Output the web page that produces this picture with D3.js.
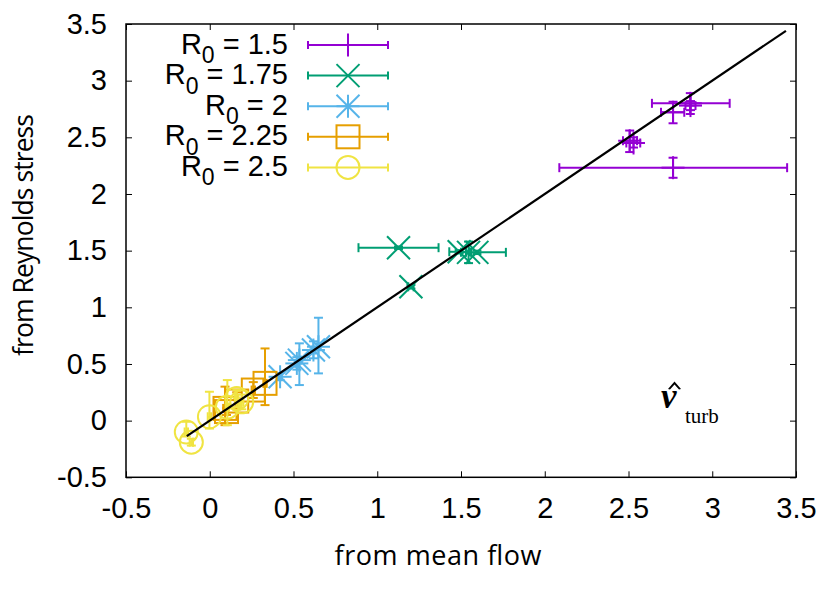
<!DOCTYPE html>
<html><head><meta charset="utf-8">
<script src="https://cdn.jsdelivr.net/npm/d3@7"></script>
<style>
body{margin:0;background:#fff;}
svg{display:block;}
</style></head>
<body>
<svg id="chart" width="831" height="590"></svg>
<script>
// ---- data: each row = [x, y, xlow, xhigh, ylow, yhigh]
const xTicks = [-0.5, 0, 0.5, 1, 1.5, 2, 2.5, 3, 3.5];
const yTicks = [-0.5, 0, 0.5, 1, 1.5, 2, 2.5, 3, 3.5];
const xTickLabels = ["-0.5","0","0.5","1","1.5","2","2.5","3","3.5"];
const yTickLabels = ["-0.5","0","0.5","1","1.5","2","2.5","3","3.5"];
const seriesNames = ["1.5","1.75","2","2.25","2.5"];
const r150 = [
  [2.507, 2.47, 2.467, 2.551, 2.37, 2.56],
  [2.53, 2.45, 2.487, 2.570, 2.41, 2.50],
  [2.766, 2.721, 2.694, 2.833, 2.624, 2.814],
  [2.869, 2.80, 2.640, 3.104, 2.706, 2.89],
  [2.87, 2.78, 2.84, 2.90, 2.74, 2.82],
  [2.766, 2.232, 2.087, 3.447, 2.143, 2.32]
];
const r175 = [
  [1.127, 1.526, 0.888, 1.366, 1.515, 1.537],
  [1.489, 1.49, 1.43, 1.55, 1.475, 1.505],
  [1.545, 1.485, 1.53, 1.56, 1.39, 1.58],
  [1.595, 1.485, 1.50, 1.768, 1.47, 1.50],
  [1.201, 1.181, 1.185, 1.217, 1.165, 1.197]
];
const r200 = [
  [0.649, 0.652, 0.64, 0.66, 0.417, 0.908],
  [0.619, 0.623, 0.61, 0.63, 0.55, 0.70],
  [0.535, 0.534, 0.525, 0.545, 0.314, 0.682],
  [0.520, 0.505, 0.51, 0.53, 0.45, 0.56],
  [0.420, 0.387, 0.41, 0.43, 0.36, 0.42]
];
const r225 = [
  [0.330, 0.329, 0.32, 0.34, 0.137, 0.637],
  [0.260, 0.270, 0.25, 0.27, 0.20, 0.34],
  [0.161, 0.173, 0.15, 0.17, 0.10, 0.25],
  [0.091, 0.108, 0.08, 0.10, -0.04, 0.30],
  [0.10, 0.08, 0.09, 0.11, 0.05, 0.11]
];
const r250 = [
  [-0.14, -0.10, -0.15, -0.13, -0.14, -0.01],
  [-0.11, -0.19, -0.12, -0.10, -0.22, -0.16],
  [-0.002, 0.034, -0.012, 0.008, -0.07, 0.255],
  [0.105, 0.119, 0.095, 0.115, -0.04, 0.358],
  [0.161, 0.196, 0.151, 0.171, 0.12, 0.27],
  [0.191, 0.166, 0.181, 0.201, 0.10, 0.23]
];
const fitLine = [[-0.137, -0.137], [3.44, 3.44]];

const colors = ["#9400d3", "#009e73", "#56b4e9", "#e69f00", "#f0e442"];
const shapes = ["plus", "cross", "star", "square", "circle"];
const allSeries = [r150, r175, r200, r225, r250];

// ---- layout
const svg = d3.select("#chart");
const pL = 126, pR = 796, pT = 24, pB = 477.3;
const x = d3.scaleLinear().domain([-0.5, 3.5]).range([pL, pR]);
const y = d3.scaleLinear().domain([-0.5, 3.5]).range([pB, pT]);
const tickFont = "'Liberation Sans', Arial, Helvetica, sans-serif";

// axes
const gx = svg.append("g").attr("transform", `translate(0,${pB})`)
  .call(d3.axisBottom(x).tickValues(xTicks).tickSize(-6).tickPadding(20)
    .tickFormat((d, i) => xTickLabels[i]));
const gxt = svg.append("g").attr("transform", `translate(0,${pT})`)
  .call(d3.axisTop(x).tickValues(xTicks).tickSize(-6).tickFormat(""));
const gy = svg.append("g").attr("transform", `translate(${pL},0)`)
  .call(d3.axisLeft(y).tickValues(yTicks).tickSize(-6).tickPadding(19)
    .tickFormat((d, i) => yTickLabels[i]));
const gyr = svg.append("g").attr("transform", `translate(${pR},0)`)
  .call(d3.axisRight(y).tickValues(yTicks).tickSize(-6).tickFormat(""));
[gx, gxt, gy, gyr].forEach(g => {
  g.select(".domain").remove();
  g.selectAll(".tick line").attr("stroke", "#000").attr("stroke-width", 1);
  g.selectAll(".tick text").attr("font-family", tickFont).attr("font-size", 29).attr("fill", "#000");
});
svg.append("rect").attr("x", pL).attr("y", pT).attr("width", pR - pL).attr("height", pB - pT)
  .attr("fill", "none").attr("stroke", "#000").attr("stroke-width", 1.5);

// axis labels
const labFont = "'Open Sans', 'Noto Sans', sans-serif";
svg.append("text").attr("x", 438).attr("y", 565).attr("text-anchor", "middle")
  .attr("font-family", labFont).attr("font-size", 27).attr("textLength", 207)
  .attr("lengthAdjust", "spacing").text("from mean flow");
svg.append("text").attr("transform", "translate(33,235) rotate(-90)").attr("text-anchor", "middle")
  .attr("font-family", labFont).attr("font-size", 26.5).attr("textLength", 242)
  .attr("lengthAdjust", "spacing").text("from Reynolds stress");

// marker drawing
const ms = 11.5, cap = 4.5;
function marker(g, shape, cx, cy, color) {
  const st = {stroke: color, "stroke-width": 2, fill: "none"};
  const add = (tag) => { const e = g.append(tag); Object.entries(st).forEach(([k, v]) => e.attr(k, v)); return e; };
  const line = (x1, y1, x2, y2) => add("line").attr("x1", x1).attr("y1", y1).attr("x2", x2).attr("y2", y2);
  if (shape === "plus" || shape === "star") {
    line(cx - ms, cy, cx + ms, cy); line(cx, cy - ms, cx, cy + ms);
  }
  if (shape === "cross" || shape === "star") {
    const d = ms;
    line(cx - d, cy - d, cx + d, cy + d); line(cx - d, cy + d, cx + d, cy - d);
  }
  if (shape === "square") add("rect").attr("x", cx - ms).attr("y", cy - ms).attr("width", 2 * ms).attr("height", 2 * ms);
  if (shape === "circle") add("circle").attr("cx", cx).attr("cy", cy).attr("r", ms);
}
function errbars(g, r, color) {
  const px = x(r[0]), py = y(r[1]);
  const xl = x(r[2]), xh = x(r[3]), yl = y(r[4]), yh = y(r[5]);
  const L = (x1, y1, x2, y2) => g.append("line").attr("x1", x1).attr("y1", y1).attr("x2", x2).attr("y2", y2)
    .attr("stroke", color).attr("stroke-width", 2);
  L(xl, py, xh, py); L(xl, py - cap, xl, py + cap); L(xh, py - cap, xh, py + cap);
  L(px, yl, px, yh); L(px - cap, yl, px + cap, yl); L(px - cap, yh, px + cap, yh);
}

// data
allSeries.forEach((data, si) => {
  const g = svg.append("g").attr("class", "series");
  data.forEach(r => {
    errbars(g, r, colors[si]);
    marker(g, shapes[si], x(r[0]), y(r[1]), colors[si]);
  });
});

// fit line y = x
svg.append("path").datum(fitLine)
  .attr("d", d3.line().x(d => x(d[0])).y(d => y(d[1])))
  .attr("stroke", "#000").attr("stroke-width", 2.2).attr("fill", "none");

// legend
const lg = svg.append("g");
seriesNames.forEach((name, i) => {
  const ry = 45 + i * 30.6;
  const t = lg.append("text").attr("x", 288).attr("y", ry + 8.5).attr("text-anchor", "end")
    .attr("font-family", tickFont).attr("font-size", 29).attr("fill", "#000");
  t.append("tspan").text("R");
  t.append("tspan").attr("font-size", 23).attr("dy", 9.5).text("0");
  t.append("tspan").attr("dy", -9.5).text(" = " + name);
  const L = (x1, y1, x2, y2) => lg.append("line").attr("x1", x1).attr("y1", y1).attr("x2", x2).attr("y2", y2)
    .attr("stroke", colors[i]).attr("stroke-width", 2);
  L(308, ry, 388, ry); L(308, ry - 4, 308, ry + 4); L(388, ry - 4, 388, ry + 4);
  marker(lg, shapes[i], 348, ry, colors[i]);
});

// nu-hat label
const serif = "'Liberation Serif', 'DejaVu Serif', serif";
svg.append("text").attr("x", 661).attr("y", 408).attr("font-family", serif)
  .attr("font-size", 35).attr("font-style", "italic").attr("font-weight", "bold").text("ν");
// hat accent drawn as a small wedge above the nu
svg.append("path").attr("d", "M668,389 L674.5,381.5 L681,389 L679,389.5 L674.5,384.5 L670,389.5 Z")
  .attr("fill", "#000");
svg.append("text").attr("x", 685).attr("y", 422.7).attr("font-family", serif)
  .attr("font-size", 21).text("turb");
</script>
</body></html>
